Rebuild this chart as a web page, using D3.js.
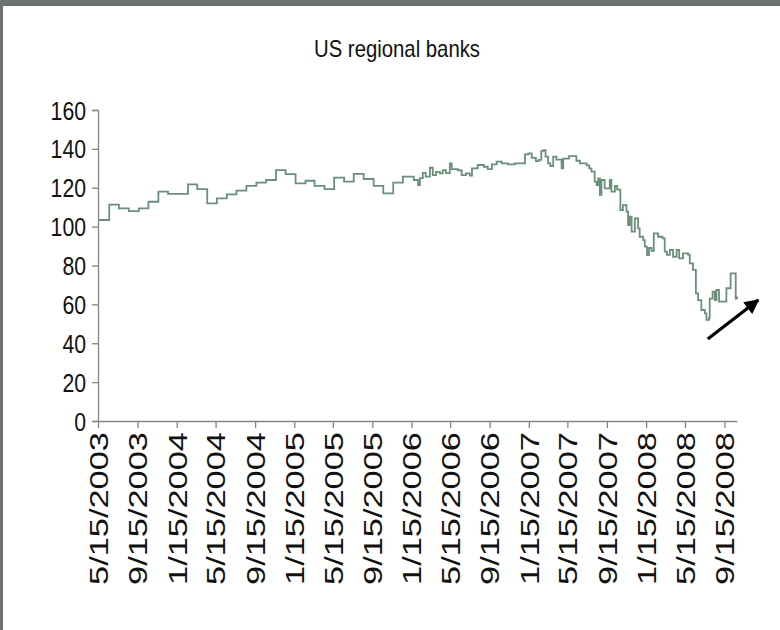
<!DOCTYPE html>
<html><head><meta charset="utf-8">
<script src="https://cdn.jsdelivr.net/npm/d3@7"></script>
<style>
html,body{margin:0;padding:0;background:#fff;}
svg{display:block;}
</style></head><body>
<svg id="chart" width="780" height="630"></svg>
<script>
const title = "US regional banks";
const tickLabels = ["5/15/2003","9/15/2003","1/15/2004","5/15/2004","9/15/2004","1/15/2005","5/15/2005","9/15/2005","1/15/2006","5/15/2006","9/15/2006","1/15/2007","5/15/2007","9/15/2007","1/15/2008","5/15/2008","9/15/2008"];
const yTicks = [0,20,40,60,80,100,120,140,160];
const xDomain = ["2003-05-15","2008-10-24"];
const dates = [
"2003-05-15","2003-06-19","2003-07-19","2003-08-19","2003-09-19","2003-10-19","2003-11-19","2003-12-19",
"2004-01-19","2004-02-19","2004-03-19","2004-04-19","2004-05-19","2004-06-19","2004-07-19","2004-08-19","2004-09-19","2004-10-19","2004-11-19","2004-12-19",
"2005-01-19","2005-02-19","2005-03-19","2005-04-19","2005-05-19","2005-06-19","2005-07-19","2005-08-19","2005-09-19","2005-10-19","2005-11-19","2005-12-19",
"2006-01-22","2006-02-04","2006-02-10","2006-02-19","2006-02-28","2006-03-13","2006-03-22","2006-04-01","2006-04-13","2006-04-22","2006-05-02","2006-05-14","2006-05-20","2006-06-08","2006-06-20","2006-07-03","2006-07-15","2006-07-22","2006-08-09","2006-08-28","2006-09-09","2006-09-22","2006-10-07","2006-10-23","2006-11-11","2006-12-02",
"2007-01-03","2007-01-14","2007-01-24","2007-02-06","2007-02-15","2007-02-23","2007-03-02","2007-03-08","2007-03-16","2007-03-23","2007-04-01","2007-04-11","2007-04-27","2007-05-02","2007-05-20","2007-06-12","2007-06-23","2007-07-14","2007-07-22","2007-07-29","2007-08-08","2007-08-14","2007-08-19","2007-08-24","2007-08-29","2007-09-08","2007-09-24","2007-09-29","2007-10-10","2007-10-17","2007-10-27","2007-11-04","2007-11-15","2007-11-20","2007-11-25","2007-12-01","2007-12-11","2007-12-21","2007-12-26",
"2008-01-06","2008-01-11","2008-01-18","2008-01-24","2008-02-01","2008-02-08","2008-02-21","2008-03-06","2008-03-13","2008-03-20","2008-03-29","2008-04-08","2008-04-19","2008-04-27","2008-05-09","2008-05-25","2008-05-30","2008-06-09","2008-06-18","2008-06-25","2008-07-05","2008-07-16","2008-07-21","2008-07-29","2008-07-31","2008-08-09","2008-08-16","2008-08-21","2008-08-29","2008-09-21","2008-10-04","2008-10-20","2008-10-24"
];
const values = [
103.4,111.3,109.4,108,109.4,112.8,118,116.8,
116.8,121.7,119.3,112,114.5,116.6,118.5,121,122.6,124,129.1,127,
122.2,123.6,121,119.3,125.2,123.1,127.1,124.5,121,117.1,122.6,125.7,
124,121.4,125,127.7,125.7,130.3,126.5,128.2,127.4,129.1,127.5,132.5,129.6,129,126.5,127.4,126.2,130,131.7,130.8,129.6,132,133.4,132.5,132,132.5,
137.2,137.7,135.4,133.7,134.3,139,139.4,136,132.5,131.2,136,134.5,130,135,136.3,133.9,132.5,131.5,130,128.3,123.1,121.4,124.8,116.3,124,119.7,124,118,121,119,108.5,111.1,107.7,100.8,105.1,97.4,104.2,99.1,94.8,
93.1,89.7,85.4,89,87.5,96.5,94.8,94,87.1,85.5,88,84.5,88,83.7,86.2,85.5,81.1,77.7,65.7,62.2,57.1,55.4,52,53,63,66.5,62.2,67.4,61.4,68.3,76,63,64
];
const arrowFrom = ["2008-07-25", 42.2];
const arrowTo = ["2008-12-29", 62.2];

const parse = d3.utcParse("%Y-%m-%d");
const parseTick = d3.utcParse("%m/%d/%Y");
const data = dates.map((d,i)=>({date: parse(d), value: values[i]}));

const svg = d3.select("#chart");
const W = 780, H = 630;
svg.append("rect").attr("x",0).attr("y",0).attr("width",W).attr("height",H).attr("fill","#fff");
// frame
svg.append("rect").attr("x",0).attr("y",0).attr("width",W).attr("height",6).attr("fill","#6e726e");
svg.append("rect").attr("x",0).attr("y",0).attr("width",3).attr("height",H).attr("fill","#6e726e");

const x = d3.scaleUtc().domain(xDomain.map(parse)).range([98, 737]);
const y = d3.scaleLinear().domain([0,160]).range([421, 110]);

svg.append("text").attr("x",397).attr("y",57).attr("text-anchor","middle")
  .attr("font-family","Liberation Sans, Arial, sans-serif").attr("font-size",24)
  .attr("textLength",166).attr("lengthAdjust","spacingAndGlyphs")
  .attr("fill","#111").text(title);

const axisColor = "#858585";
// y axis
const yAxis = svg.append("g").attr("transform","translate(98,0)")
  .call(d3.axisLeft(y).tickValues(yTicks).tickSize(6).tickPadding(6));
yAxis.select(".domain").attr("stroke",axisColor).attr("stroke-width",1.3);
yAxis.selectAll(".tick line").attr("stroke",axisColor).attr("stroke-width",1.3);
yAxis.selectAll(".tick text").attr("font-family","Liberation Sans, Arial, sans-serif")
  .attr("font-size",25).attr("fill","#111")
  .attr("textLength", d => String(d).length*11.8).attr("lengthAdjust","spacingAndGlyphs")
  .attr("x",-12).attr("dy","0.36em");

// x axis
const tickDates = tickLabels.map(parseTick);
const xAxis = svg.append("g").attr("transform","translate(0,421)")
  .call(d3.axisBottom(x).tickValues(tickDates).tickSize(7).tickSizeOuter(0).tickFormat((d,i)=>tickLabels[i]));
xAxis.select(".domain").attr("stroke",axisColor).attr("stroke-width",1.3);
xAxis.selectAll(".tick line").attr("stroke",axisColor).attr("stroke-width",1.3);
xAxis.selectAll(".tick text").attr("font-family","Liberation Sans, Arial, sans-serif")
  .attr("font-size",26).attr("fill","#111")
  .attr("textLength",153).attr("lengthAdjust","spacingAndGlyphs")
  .attr("transform","rotate(-90)").attr("text-anchor","end")
  .attr("x",-11).attr("y",0).attr("dy","0.36em");

// line
const line = d3.line().x(d=>x(d.date)).y(d=>y(d.value)).curve(d3.curveStepAfter);
svg.append("path").datum(data).attr("d",line).attr("fill","none")
  .attr("stroke","#6a8f7b").attr("stroke-width",1.8).attr("stroke-linejoin","miter");

// arrow
const defs = svg.append("defs");
defs.append("marker").attr("id","ah").attr("viewBox","0 0 10 10").attr("refX",9).attr("refY",5)
  .attr("markerWidth",5).attr("markerHeight",4.6).attr("orient","auto").attr("markerUnits","strokeWidth")
  .append("path").attr("d","M0,0L10,5L0,10z").attr("fill","#000");
svg.append("line")
  .attr("x1",x(parse(arrowFrom[0]))).attr("y1",y(arrowFrom[1]))
  .attr("x2",x(parse(arrowTo[0]))).attr("y2",y(arrowTo[1]))
  .attr("stroke","#000").attr("stroke-width",3.2).attr("marker-end","url(#ah)");
</script>
</body></html>
